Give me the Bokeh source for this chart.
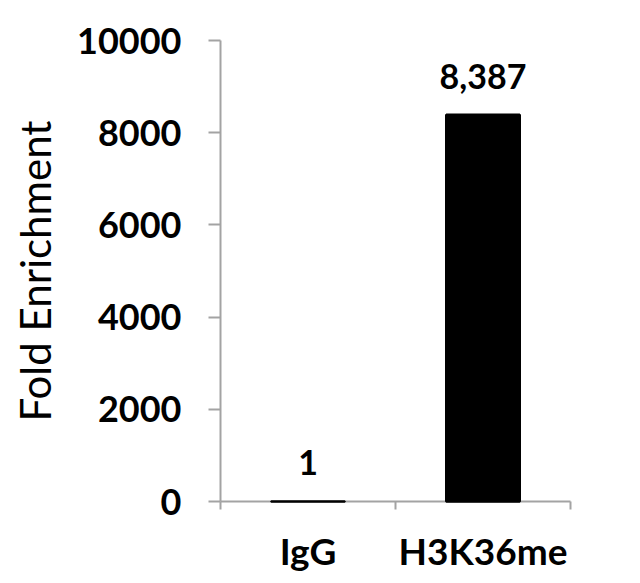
from bokeh.plotting import figure
from bokeh.models import Range1d, FixedTicker, ColumnDataSource, LabelSet
from bokeh.core.properties import value
from bokeh.embed import file_html
from bokeh.resources import INLINE

categories = ["IgG", "H3K36me"]
values = [1, 8387]
y_ticks = [0, 2000, 4000, 6000, 8000, 10000]

positions = [i + 0.5 for i in range(len(categories))]
value_labels = [f"{v:,}" for v in values]

FONT = "Lato"
AXIS_GRAY = "#a3a3a3"

p = figure(
    width=624, height=575,
    x_range=Range1d(0, len(categories)),
    y_range=Range1d(0, 10000),
    output_backend="svg", toolbar_location=None,
    min_border_left=220, min_border_right=54,
    min_border_top=40, min_border_bottom=72,
)
p.outline_line_color = None
p.xgrid.grid_line_color = None
p.ygrid.grid_line_color = None
p.background_fill_color = "white"
p.border_fill_color = "white"

src = ColumnDataSource(dict(x=positions, top=values, label=value_labels))
bars = p.vbar(x="x", top="top", bottom=0, width=0.42, source=src,
              fill_color="black", line_color="black", line_width=2.5)
bars.level = "overlay"

labels = LabelSet(x="x", y="top", text="label", source=src,
                  text_align="center", text_baseline="alphabetic",
                  y_offset=26, text_font=value(FONT), text_font_style="bold",
                  text_font_size="34px", text_color="black")
p.add_layout(labels)

# x axis
xa = p.xaxis[0]
xa.ticker = FixedTicker(ticks=positions, minor_ticks=[0, 1, 2])
xa.major_label_overrides = {pos: c for pos, c in zip(positions, categories)}
xa.major_tick_line_color = None
xa.minor_tick_line_color = AXIS_GRAY
xa.minor_tick_line_width = 2
xa.minor_tick_out = 8
xa.minor_tick_in = 0
xa.axis_line_color = AXIS_GRAY
xa.axis_line_width = 2
xa.major_label_text_font = FONT
xa.major_label_text_font_style = "bold"
xa.major_label_text_font_size = "37px"
xa.major_label_text_color = "black"
xa.major_label_standoff = 18

# y axis
ya = p.yaxis[0]
ya.ticker = FixedTicker(ticks=y_ticks, minor_ticks=[])
ya.major_label_overrides = {t: str(t) for t in y_ticks}
ya.major_tick_line_color = AXIS_GRAY
ya.major_tick_line_width = 2
ya.major_tick_out = 12
ya.major_tick_in = 0
ya.minor_tick_line_color = None
ya.axis_line_color = AXIS_GRAY
ya.axis_line_width = 2
ya.major_label_text_font = FONT
ya.major_label_text_font_style = "bold"
ya.major_label_text_font_size = "36px"
ya.major_label_text_color = "black"
ya.major_label_standoff = 27
ya.axis_label = "Fold Enrichment"
ya.axis_label_text_font = FONT
ya.axis_label_text_font_style = "normal"
ya.axis_label_text_font_size = "42px"
ya.axis_label_text_color = "black"
ya.axis_label_standoff = 14

open("out.html", "w").write(file_html(p, INLINE))
